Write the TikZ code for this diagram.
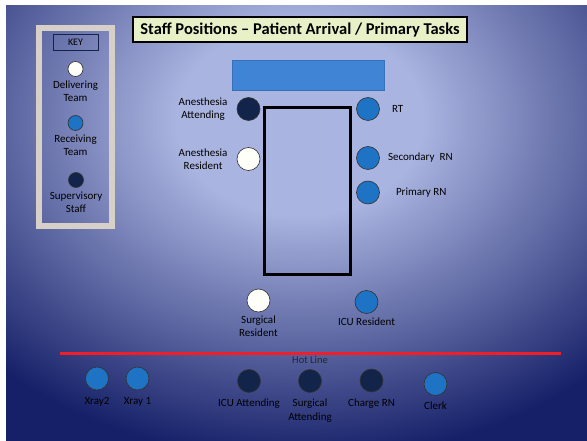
\documentclass[tikz,border=0pt]{standalone}
\usepackage{fontspec}
\setmainfont{Carlito}
\usetikzlibrary{positioning}

\definecolor{bglight}{RGB}{170,180,224}
\definecolor{bgdark}{RGB}{22,32,104}
\definecolor{keyframe}{RGB}{214,208,200}
\definecolor{titlefill}{RGB}{232,240,200}
\definecolor{barblue}{RGB}{64,132,214}
\definecolor{rcvblue}{RGB}{30,115,196}
\definecolor{supnavy}{RGB}{18,36,74}
\definecolor{dlvwhite}{RGB}{255,255,250}
\definecolor{hotred}{RGB}{240,30,40}

\pgfdeclareradialshading{roomglow}{\pgfpoint{0bp}{0bp}}{color(0bp)=(bglight); color(7bp)=(bglight); color(25bp)=(bgdark); color(50bp)=(bgdark)}

\begin{document}
\begin{tikzpicture}[x=1pt, y=-1pt,
    staff/.style={circle, draw=black!80, line width=0.6pt, minimum size=23pt, inner sep=0pt},
    keydot/.style={staff, minimum size=15pt},
    delivering/.style={fill=dlvwhite},
    receiving/.style={fill=rcvblue},
    supervisory/.style={fill=supnavy},
    lbl/.style={font=\fontsize{11}{13.5}\selectfont, align=center, inner sep=1pt},
    keytag/.style={draw=supnavy, line width=0.8pt, minimum width=45pt, minimum height=16pt, inner sep=0pt, font=\fontsize{10}{11}\selectfont},
    banner/.style={draw=black, line width=1.2pt, fill=titlefill, minimum width=334pt, minimum height=25pt, inner sep=0pt, font=\fontsize{16.5}{18}\selectfont\bfseries},
    bar/.style={draw=barblue!85!black, line width=0.5pt, fill=barblue, minimum width=152pt, minimum height=30pt},
    bed/.style={draw=black, line width=3pt, minimum width=86pt, minimum height=167pt},
    hotline/.style={draw=hotred, line width=3pt},
  ]
                % Background:
                \fill[white] (0,0) rectangle (587,441);
                \useasboundingbox (0,0) rectangle (587,441);
                \begin{scope}
                  \clip (6,6) rectangle (587,441);
                  \fill[bgdark] (6,6) rectangle (587,441);
                  \shade[shading=roomglow] (300,120) ellipse [x radius=440pt, y radius=340pt];
                \end{scope}

                % Key:
                \draw[keyframe, line width=6pt] (39,28) rectangle (112,226.5);
                \node[keytag] (key) at (75.5,42) {KEY};
                \node[keydot, delivering] (kdlv) at (75.5,69) {};
                \node[lbl, below=2.5pt of kdlv] (kdlvtxt) {Delivering\\Team};
                \node[keydot, receiving] (krcv) at (75.5,123) {};
                \node[lbl, below=2.5pt of krcv] (krcvtxt) {Receiving\\Team};
                \node[keydot, supervisory] (ksup) at (76,180) {};
                \node[lbl, below=2.5pt of ksup] (ksuptxt) {Supervisory\\Staff};

                % Title, bar and bed:
                \node[banner] (title) at (300,29.5) {Staff Positions -- Patient Arrival / Primary Tasks};
                \node[bar] (bar) at (308,75) {};
                \node[bed] (bed) at (307.5,191) {};

                % Staff around the bed:
                \node[staff, supervisory] (aatt) at (248.5,109) {};
                \node[lbl, left=8pt of aatt] {Anesthesia\\Attending};
                \node[staff, delivering] (ares) at (248.5,159) {};
                \node[lbl, left=8pt of ares] {Anesthesia\\Resident};
                \node[staff, receiving] (rt) at (368,109) {};
                \node[lbl, right=11pt of rt] {RT};
                \node[staff, receiving] (srn) at (368,158) {};
                \node[lbl, right=7pt of srn] {Secondary\ \ RN};
                \node[staff, receiving] (prn) at (368,192.5) {};
                \node[lbl, right=15pt of prn] {Primary RN};
                \node[staff, delivering] (sres) at (258.5,300.5) {};
                \node[lbl, below=2pt of sres] {Surgical\\Resident};
                \node[staff, receiving] (icures) at (366.5,302) {};
                \node[lbl, below=3pt of icures] {ICU Resident};

                % Hot line:
                \coordinate (hlwest) at (60,353);
                \coordinate (hleast) at (561,353);
                \draw[hotline] (hlwest) -- (hleast);
                \node[lbl, font=\fontsize{10.5}{12}\selectfont, text=black!85] (hltxt) at (310,359.5) {Hot Line};

                % Staff past the hot line:
                \node[staff, receiving] (xray2) at (97,378.5) {};
                \node[lbl, below=6pt of xray2] {Xray2};
                \node[staff, receiving] (xray1) at (137.5,378.5) {};
                \node[lbl, below=6pt of xray1] {Xray 1};
                \node[staff, supervisory] (icuatt) at (249,381) {};
                \node[lbl, below=5pt of icuatt] {ICU Attending};
                \node[staff, supervisory] (suratt) at (310,381) {};
                \node[lbl, below=5pt of suratt] {Surgical\\Attending};
                \node[staff, supervisory] (crn) at (371.5,380.5) {};
                \node[lbl, below=5pt of crn] {Charge RN};
                \node[staff, receiving] (clerk) at (435.5,384) {};
                \node[lbl, below=5pt of clerk] {Clerk};
            \end{tikzpicture}
\end{document}
